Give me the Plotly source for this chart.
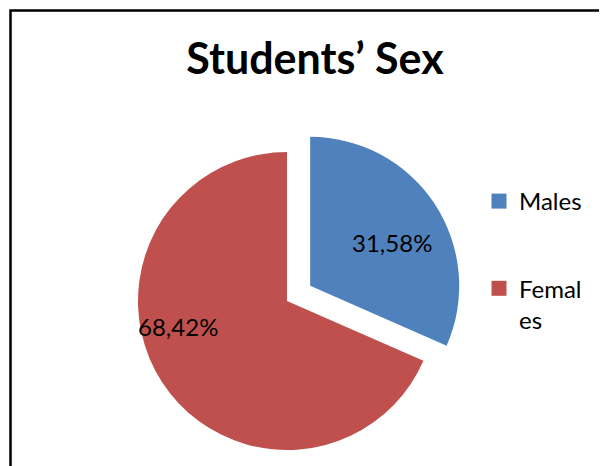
import math

import plotly.graph_objects as go

# the page body adds an 8px margin, so the figure is drawn 8px smaller
# and every page pixel is mapped back through OFF
PAGE_W, PAGE_H, OFF = 607, 466, 8
W, H = PAGE_W - OFF, PAGE_H - OFF

sexes = ["Males", "Females"]
shares = [31.58, 68.42]
legend_labels = ["Males", "Femal<br>es"]  # wrapped like the narrow Excel legend
colors = ["#4F81BD", "#C0504D"]
CLEAR = "rgba(0,0,0,0)"

# pie geometry, in page pixels
cx, cy, r = 287, 301, 149
pull = 0.186
# data-label placement: (clockwise angle from 12 o'clock, fraction of radius)
label_place = [(62, 0.62), (257, 0.75)]


def fx(px):
    return (px - OFF) / W


def fy(py):
    return 1 - (py - OFF) / H


def domain(x, y, rad):
    return dict(x=[fx(x - rad), fx(x + rad)], y=[fy(y + rad), fy(y - rad)])


pct = [f"{v:.2f}%".replace(".", ",") for v in shares]

# the Males slice is exploded along its bisector
half = math.radians(360 * shares[0] / sum(shares) / 2)
bx = cx + pull * r * math.sin(half)
by = cy - pull * r * math.cos(half)
centers = [(bx, by), (cx, cy)]

pie_common = dict(
    labels=sexes,
    values=shares,
    sort=False,
    direction="clockwise",
    rotation=0,
    textinfo="none",
    hoverinfo="label+percent",
    showlegend=False,
)

fig = go.Figure()
fig.add_trace(go.Pie(
    domain=domain(cx, cy, r),
    marker=dict(colors=[CLEAR, colors[1]]),
    **pie_common,
))
fig.add_trace(go.Pie(
    domain=domain(bx, by, r),
    marker=dict(colors=[colors[0], CLEAR]),
    **pie_common,
))

# legend entries (square swatches)
for name, color, grp in zip(legend_labels, colors, sexes):
    fig.add_trace(go.Scatter(
        x=[None], y=[None], mode="markers", name=name, legendgroup=grp,
        marker=dict(symbol="square", size=15, color=color),
    ))

# data labels
for text, (ang, frac), (px, py) in zip(pct, label_place, centers):
    a = math.radians(ang)
    fig.add_annotation(
        text=text, showarrow=False, xref="paper", yref="paper",
        x=fx(px + frac * r * math.sin(a)), y=fy(py - frac * r * math.cos(a)),
        xanchor="center", yanchor="middle",
        font=dict(family="Lato", size=24, color="black"),
    )

fig.add_shape(
    type="rect", xref="paper", yref="paper",
    x0=fx(10.5), x1=1.05, y0=-0.05, y1=fy(10.5),
    line=dict(color="black", width=2.5), fillcolor="rgba(0,0,0,0)",
)

fig.update_layout(
    width=W,
    height=H,
    margin=dict(l=0, r=0, t=0, b=0),
    paper_bgcolor="white",
    plot_bgcolor="white",
    font=dict(family="Lato", color="black"),
    title=dict(
        text="Students’ Sex",
        font=dict(family="Lato", size=43, weight="bold", color="black"),
        x=fx(315), xanchor="center", xref="paper",
        y=fy(59), yanchor="middle", yref="container",
    ),
    xaxis=dict(visible=False),
    yaxis=dict(visible=False),
    showlegend=True,
    legend=dict(
        x=fx(479), xanchor="left",
        y=fy(179), yanchor="top",
        font=dict(family="Lato", size=24, color="black"),
        traceorder="grouped",
        tracegroupgap=53,
        valign="top",
        bgcolor="rgba(0,0,0,0)",
    ),
)

fig.write_html("out.html")
